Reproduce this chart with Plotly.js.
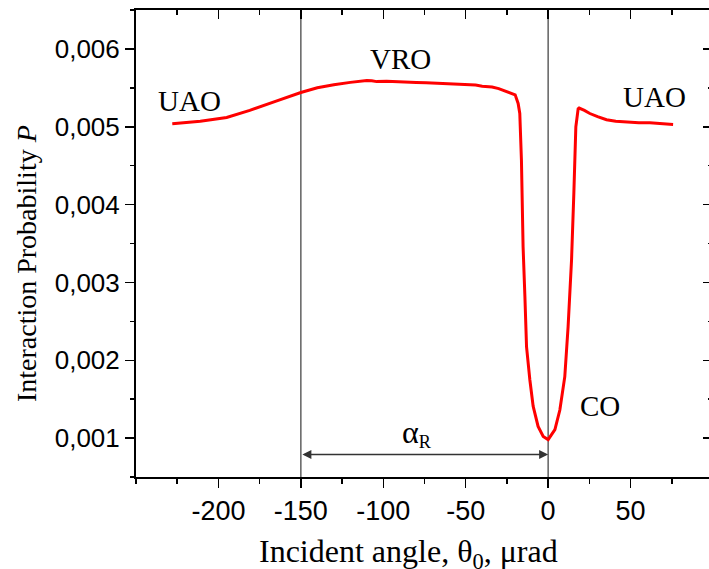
<!DOCTYPE html>
<html>
<head>
<meta charset="utf-8">
<script src="https://cdn.plot.ly/plotly-3.0.1.min.js"></script>
<style>
html,body{margin:0;padding:0;overflow:hidden;background:#fff;}
#chart{width:713px;height:569px;}
</style>
</head>
<body>
<div id="chart"></div>
<script>
// Data
const angle = [-228, -211, -195, -181, -165, -150, -140, -130, -120, -114, -110, -107, -104, -98, -94, -88, -80, -74, -70, -64, -60, -50, -44, -40, -34, -30, -26, -23, -20, -18.2, -17.2, -16.2, -15.2, -14.1, -13.1, -11.1, -9.1, -6.1, -3, 0, 4.1, 7.1, 10.1, 12.1, 14.2, 15.6, 16.8, 18.2, 18.8, 22, 25.3, 30, 35.4, 41, 47.5, 55, 61.7, 68, 75.8];
const probability = [0.00504, 0.00507, 0.00512, 0.00521, 0.00533, 0.00544, 0.00550, 0.00554, 0.00557, 0.00558, 0.005595, 0.00559, 0.00558, 0.005585, 0.00558, 0.005575, 0.00557, 0.005565, 0.00556, 0.005555, 0.00555, 0.00554, 0.005535, 0.00552, 0.00551, 0.00549, 0.00546, 0.00544, 0.00541, 0.00530, 0.00517, 0.00457, 0.00346, 0.00282, 0.00217, 0.00175, 0.00141, 0.00115, 0.00102, 0.00098, 0.00111, 0.00136, 0.00179, 0.00243, 0.00329, 0.00415, 0.00500, 0.00523, 0.00524, 0.00521, 0.00517, 0.00513, 0.00509, 0.00507, 0.00506, 0.00505, 0.00505, 0.00504, 0.00503];

const xTickVals = [-200, -150, -100, -50, 0, 50];
const xTickText = ['-200', '-150', '-100', '-50', '0', '50'];
const yTickVals = [0.001, 0.002, 0.003, 0.004, 0.005, 0.006];
const yTickText = ['0,001', '0,002', '0,003', '0,004', '0,005', '0,006'];

const markerAngles = [-150, 0];          // vertical reference lines
const alphaR = {from: -150, to: 0, level: 0.00079};
const regionLabels = ['UAO', 'VRO', 'UAO', 'CO'];
const regionX = [-217.6, -89.3, 64.7, 31.4];
const regionY = [0.005337, 0.005876, 0.005376, 0.001417];

const xRange = [-250, 100];
const yRange = [0.0005, 0.0065];

const serif = 'Liberation Serif, Times New Roman, serif';
const sans = 'Liberation Sans, Arial, Helvetica, sans-serif';

const traces = [
  {x: angle, y: probability, type: 'scatter', mode: 'lines',
   line: {color: '#ff0000', width: 3}, showlegend: false, hoverinfo: 'x+y'},
  {x: [], y: [], xaxis: 'x2', yaxis: 'y2', type: 'scatter', mode: 'lines', showlegend: false, hoverinfo: 'skip'}
];

const shapes = markerAngles.map(a => ({
  type: 'line', xref: 'x', yref: 'paper', x0: a, x1: a, y0: 0, y1: 1,
  line: {color: '#555555', width: 1.4}, layer: 'below'
}));

const annotations = regionLabels.map((t, i) => ({
  x: regionX[i], y: regionY[i], xref: 'x', yref: 'y', text: t, showarrow: false,
  font: {family: serif, size: 29, color: '#000'}
}));

annotations.push({
  x: alphaR.to, y: alphaR.level, ax: alphaR.from, ay: alphaR.level,
  xref: 'x', yref: 'y', axref: 'x', ayref: 'y', text: '',
  showarrow: true, arrowside: 'end+start', arrowhead: 2, arrowsize: 1.2,
  arrowwidth: 1.5, arrowcolor: '#333333', standoff: 0, startstandoff: 0
});
annotations.push({
  x: (alphaR.from + alphaR.to) / 2 - 4.6, y: 0.00107, xref: 'x', yref: 'y',
  text: '<span style="font-size:32px">α</span><sub>R</sub>', showarrow: false,
  font: {family: serif, size: 26, color: '#000'}
});
// axis titles
annotations.push({
  x: 0.473, y: 0, xref: 'paper', yref: 'paper', yshift: -54, yanchor: 'top',
  text: 'Incident angle, θ<sub>0</sub>, μrad', showarrow: false,
  font: {family: serif, size: 32, color: '#000'}
});
annotations.push({
  x: 0, y: 0.456, xref: 'paper', yref: 'paper', xshift: -110, xanchor: 'center',
  text: 'Interaction Probability <i>P</i>', showarrow: false, textangle: -90,
  font: {family: serif, size: 28, color: '#000'}
});

const layout = {
  width: 713, height: 569,
  margin: {l: 136, r: 0, t: 10, b: 92},
  paper_bgcolor: '#fff', plot_bgcolor: '#fff',
  showlegend: false,
  xaxis: {
    range: xRange, tickmode: 'array', tickvals: xTickVals, ticktext: xTickText,
    ticks: 'outside', ticklen: 9, tickwidth: 1.5, tickcolor: '#000',
    showline: true, linecolor: '#000', linewidth: 2, showgrid: false, zeroline: false,
    tickfont: {family: sans, size: 27, color: '#000'},
    minor: {dtick: 25, tick0: 0, ticks: 'outside', ticklen: 5, tickwidth: 1.5, tickcolor: '#000', showgrid: false}
  },
  yaxis: {
    range: yRange, tickmode: 'array', tickvals: yTickVals, ticktext: yTickText,
    ticks: 'outside', ticklen: 9, tickwidth: 1.5, tickcolor: '#000',
    showline: true, linecolor: '#000', linewidth: 2, showgrid: false, zeroline: false,
    tickfont: {family: sans, size: 26, color: '#000'},
    minor: {dtick: 0.0005, tick0: 0, ticks: 'outside', ticklen: 4, tickwidth: 1.5, tickcolor: '#000', showgrid: false}
  },
  xaxis2: {
    overlaying: 'x', side: 'top', range: xRange, tickmode: 'array', tickvals: xTickVals,
    showticklabels: false, ticks: 'inside', ticklen: 9, tickwidth: 1.5, tickcolor: '#000',
    showline: true, linecolor: '#000', linewidth: 2, showgrid: false, zeroline: false,
    minor: {dtick: 25, tick0: 0, ticks: 'inside', ticklen: 5, tickwidth: 1.5, tickcolor: '#000', showgrid: false}
  },
  yaxis2: {
    overlaying: 'y', side: 'right', range: yRange, tickmode: 'array', tickvals: yTickVals,
    showticklabels: false, ticks: 'inside', ticklen: 10, tickwidth: 1.5, tickcolor: '#000',
    showline: true, linecolor: '#000', linewidth: 2, showgrid: false, zeroline: false,
    minor: {dtick: 0.0005, tick0: 0, ticks: 'inside', ticklen: 5, tickwidth: 1.5, tickcolor: '#000', showgrid: false}
  },
  shapes: shapes,
  annotations: annotations
};

Plotly.newPlot('chart', traces, layout, {displayModeBar: false, staticPlot: true});
</script>
</body>
</html>
